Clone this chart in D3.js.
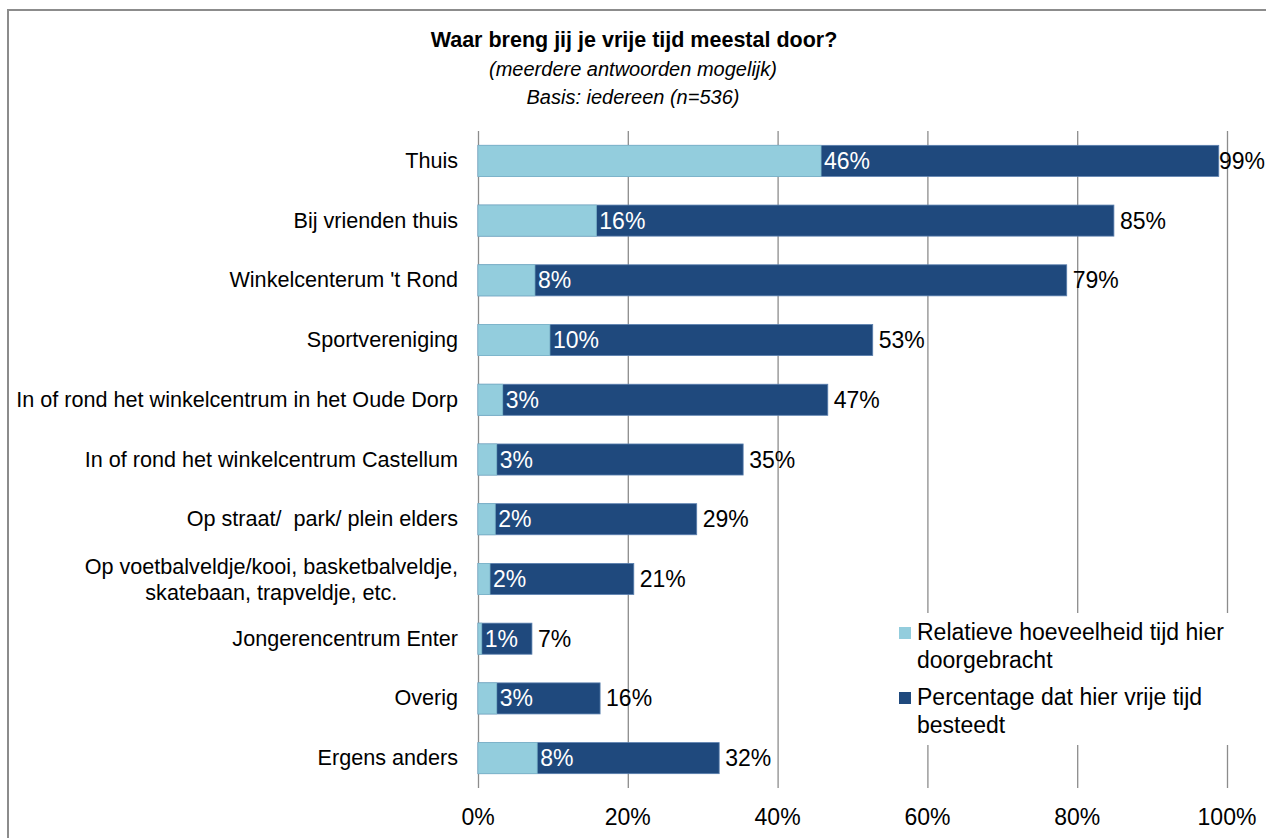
<!DOCTYPE html>
<html>
<head>
<meta charset="utf-8">
<script src="https://cdn.jsdelivr.net/npm/d3@7"></script>
<style>
  html, body { margin: 0; padding: 0; background: #fff; }
  svg { display: block; font-family: "Liberation Sans", Arial, sans-serif; }
  .cat { white-space: pre; }
</style>
</head>
<body>
<svg id="chart" width="1266" height="838"></svg>
<script>
const categories = [
  ["Thuis"],
  ["Bij vrienden thuis"],
  ["Winkelcenterum 't Rond"],
  ["Sportvereniging"],
  ["In of rond het winkelcentrum in het Oude Dorp"],
  ["In of rond het winkelcentrum Castellum"],
  ["Op straat/  park/ plein elders"],
  ["Op voetbalveldje/kooi, basketbalveldje,", "skatebaan, trapveldje, etc."],
  ["Jongerencentrum Enter"],
  ["Overig"],
  ["Ergens anders"]
];
// Relatieve hoeveelheid tijd hier doorgebracht (bar length, label)
const relValues = [45.8, 15.8, 7.6, 9.6, 3.3, 2.5, 2.3, 1.6, 0.5, 2.5, 7.9];
const relLabels = ["46%", "16%", "8%", "10%", "3%", "3%", "2%", "2%", "1%", "3%", "8%"];
// Percentage dat hier vrije tijd besteedt
const totValues = [98.9, 84.9, 78.6, 52.7, 46.7, 35.4, 29.2, 20.8, 7.2, 16.3, 32.2];
const totLabels = ["99%", "85%", "79%", "53%", "47%", "35%", "29%", "21%", "7%", "16%", "32%"];
const xTicks = [0, 20, 40, 60, 80, 100];
const seriesNames = [
  ["Relatieve hoeveelheid tijd hier", "doorgebracht"],
  ["Percentage dat hier vrije tijd", "besteedt"]
];
const titleLines = ["Waar breng jij je vrije tijd meestal door?", "(meerdere antwoorden mogelijk)", "Basis: iedereen (n=536)"];

const LIGHT = "#93CDDD", DARK = "#1F497D", GRID = "#8c8c8c";

const svg = d3.select("#chart");

// outer frame
svg.append("rect").attr("x", 8).attr("y", 10).attr("width", 1300).attr("height", 900)
  .attr("fill", "#fff").attr("stroke", "#8c8c8c").attr("stroke-width", 2);

// titles
svg.append("text").attr("x", 634).attr("y", 47).attr("text-anchor", "middle")
  .attr("font-size", 21.5).attr("font-weight", "bold").attr("fill", "#000").text(titleLines[0]);
svg.append("text").attr("x", 633).attr("y", 76).attr("text-anchor", "middle")
  .attr("font-size", 20).attr("font-style", "italic").attr("fill", "#000").text(titleLines[1]);
svg.append("text").attr("x", 633).attr("y", 104).attr("text-anchor", "middle")
  .attr("font-size", 20).attr("font-style", "italic").attr("fill", "#000").text(titleLines[2]);

const x = d3.scaleLinear().domain([0, 100]).range([478, 1227]);
const y = d3.scaleBand().domain(d3.range(categories.length)).range([131, 788]).paddingInner(0.48).paddingOuter(0.24);

// gridlines
svg.append("g").selectAll("line").data(xTicks).join("line")
  .attr("x1", d => x(d) + 0.5).attr("x2", d => x(d) + 0.5)
  .attr("y1", 131).attr("y2", 788)
  .attr("stroke", GRID).attr("stroke-width", 1.3);

// x-axis tick labels
svg.append("g").selectAll("text").data(xTicks).join("text")
  .attr("x", d => x(d)).attr("y", 825).attr("text-anchor", "middle")
  .attr("font-size", 23).attr("fill", "#000").text(d => d + "%");

// bars
const rows = svg.append("g").selectAll("g").data(categories.map((c, i) => i)).join("g");
rows.append("rect")
  .attr("x", x(0)).attr("y", i => y(i))
  .attr("width", i => x(totValues[i]) - x(0)).attr("height", y.bandwidth())
  .attr("fill", DARK).attr("stroke", "#5a7fae").attr("stroke-width", 0.8);
rows.append("rect")
  .attr("x", x(0)).attr("y", i => y(i))
  .attr("width", i => x(relValues[i]) - x(0)).attr("height", y.bandwidth())
  .attr("fill", LIGHT).attr("stroke", "#7fb8cc").attr("stroke-width", 0.8);

// labels inside (relative)
rows.append("text")
  .attr("x", i => x(relValues[i]) + 3).attr("y", i => y(i) + y.bandwidth() / 2 + 8)
  .attr("font-size", 23).attr("fill", "#fff").text(i => relLabels[i]);
// labels outside (totals), kept inside the frame
rows.append("text")
  .attr("y", i => y(i) + y.bandwidth() / 2 + 8)
  .attr("font-size", 23).attr("fill", "#000").text(i => totLabels[i])
  .attr("x", function(i) {
    const w = this.getComputedTextLength();
    return Math.min(x(totValues[i]) + 6, 1265 - w);
  });

// category labels
const CAT_FS = 21.6;
rows.each(function(i) {
  const g = d3.select(this);
  const lines = categories[i];
  const cy = y(i) + y.bandwidth() / 2;
  if (lines.length === 1) {
    g.append("text").attr("class", "cat").attr("x", 458).attr("y", cy + 7).attr("text-anchor", "end")
      .attr("font-size", CAT_FS).attr("fill", "#000").text(lines[0]);
  } else {
    const t1 = g.append("text").attr("class", "cat").attr("x", 458).attr("y", cy - 5).attr("text-anchor", "end")
      .attr("font-size", CAT_FS).attr("fill", "#000").text(lines[0]);
    const w1 = t1.node().getComputedTextLength();
    g.append("text").attr("class", "cat").attr("x", 458 - w1 / 2).attr("y", cy + 21).attr("text-anchor", "middle")
      .attr("font-size", CAT_FS).attr("fill", "#000").text(lines[1]);
  }
});

// legend
const lg = svg.append("g");
lg.append("rect").attr("x", 888).attr("y", 613).attr("width", 355).attr("height", 132).attr("fill", "#fff");
const legendColors = [LIGHT, DARK];
const legendTop = [640, 705];
seriesNames.forEach((lines, k) => {
  lg.append("rect").attr("x", 899).attr("y", legendTop[k] - 13).attr("width", 12).attr("height", 12)
    .attr("fill", legendColors[k]);
  lines.forEach((t, j) => {
    lg.append("text").attr("x", 917).attr("y", legendTop[k] + j * 28)
      .attr("font-size", 23).attr("fill", "#000").text(t);
  });
});
</script>
</body>
</html>
